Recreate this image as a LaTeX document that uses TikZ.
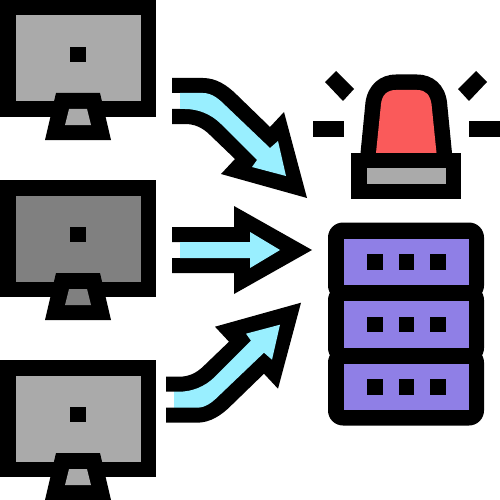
\documentclass[tikz,border=0pt]{standalone}
\usepackage{tikz}
\definecolor{screenlight}{HTML}{AAAAAA}
\definecolor{screendark}{HTML}{808080}
\definecolor{flowblue}{HTML}{99EFFF}
\definecolor{alarmred}{HTML}{FA5A5A}
\definecolor{rackpurple}{HTML}{8F7FE6}

\begin{document}
\begin{tikzpicture}[
    x=1pt, y=-1pt,
    ink/.style={fill=black, draw=none},
    flow/.style={fill=flowblue, draw=none},
    rack/.style={fill=rackpurple, draw=none},
    lamp/.style={fill=alarmred, draw=none},
    plate/.style={fill=screenlight, draw=none}]

    \useasboundingbox (0,0) rectangle (500,500);

    % Monitors (left)
    \foreach \y/\shade in {0/screenlight, 180/screendark, 360/screenlight} {
        \begin{scope}[yshift=-\y pt]
        \fill[ink] (0,0) rectangle (156,117);
        \fill[fill=\shade] (15.5,15.5) rectangle (140.5,101.5);
        \fill[ink] (70,47) rectangle (86,62);
        \fill[ink] (56,93) -- (100,93) -- (111,140) -- (45,140) -- cycle;
        \fill[fill=\shade] (69,109) -- (87,109) -- (91,125) -- (65,125) -- cycle;
        \end{scope}
    }

    % Bent arrow, top
    \newcommand{\bentarrow}{
        \fill[ink] (172,78) -- (203,78) .. controls (216,78) and (227,85) .. (237,95)
            -- (270,127) -- (284,112) -- (307,198) -- (221,174) -- (235,159) -- (210,135)
            .. controls (202,127) and (194,124) .. (185,124) -- (172,124) -- (172,109)
            -- (180,109) -- (180,93) -- (172,93) -- cycle;
        \fill[flow] (180,93) -- (203,93) .. controls (212,93) and (219,99) .. (226,106)
            -- (270,148) -- (278,141) -- (286,176) -- (252,167) -- (257,160) -- (221,124)
            .. controls (211,114) and (198,109) .. (185,109) -- (180,109) -- cycle;
    }
    \bentarrow

    % Straight arrow, middle
    \fill[ink] (172,227) -- (234,227) -- (234,206) -- (312,250) -- (234,294) -- (234,273)
        -- (172,273) -- (172,258) -- (180,258) -- (180,242) -- (172,242) -- cycle;
    \fill[flow] (180,242) -- (250,242) -- (250,232) -- (280,250) -- (250,268) -- (250,258)
        -- (180,258) -- cycle;

    % Bent arrow, bottom
    \begin{scope}[shift={(-6,500.7)}, yscale=-1]
    \bentarrow
    \end{scope}

    % Alarm rays
    \fill[ink] (313,121) rectangle (344,137);
    \fill[ink] (469,121) rectangle (500,137);
    \fill[ink] (336,71) -- (354,89) -- (343,101) -- (325,82) -- cycle;
    \fill[ink] (476,71) -- (487,82) -- (469,101) -- (458,89) -- cycle;

    % Alarm lamp
    \fill[ink] (360.5,153) -- (365.5,102) .. controls (368,85) and (380,74.5) .. (396,74.5)
        -- (417,74.5) .. controls (433,74.5) and (445,85) .. (447,102) -- (452,153) -- cycle;
    \fill[lamp] (376,153) -- (381,104) .. controls (382,95) and (387,90) .. (396,90)
        -- (417,90) .. controls (426,90) and (430,95) .. (431.5,104) -- (436.5,153) -- cycle;
    \fill[ink] (351,152.5) rectangle (461,199);
    \fill[plate] (367,168) rectangle (445.5,183.5);

    % Server rack
    \foreach \y in {0, 62.5, 125} {
        \begin{scope}[yshift=-\y pt]
        \fill[ink, rounded corners=15pt] (328,222.5) rectangle (484,300.5);
        \end{scope}
    }
    \foreach \y in {0, 62.5, 125} {
        \begin{scope}[yshift=-\y pt]
        \fill[rack] (343.5,238.5) rectangle (468.5,285);
        \foreach \x in {367, 398.5, 430} {
            \fill[ink] (\x,254) rectangle ++(15.5,15.5);
        }
        \end{scope}
    }
\end{tikzpicture}
\end{document}
